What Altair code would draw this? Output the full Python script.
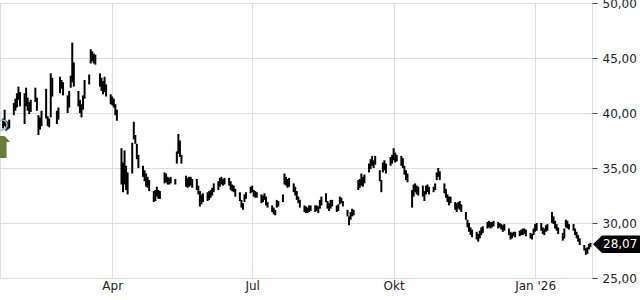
import json
import altair as alt
import pandas as pd

# Daily low / high prices (one row per trading week, Mon..Fri), Jan 20 2025 .. Feb 6 2026
low = [
    38.6, 38.8, 38.4, 38.5, 38.6,
    39.8, 40.2, 40.5, 41.2, 40.6,
    39.0, 40.6, 40.2, 39.9, 40.1,
    41.0, 40.2, 38.0, 38.5, 38.8,
    39.5, 38.8, 38.7, 39.6, 41.5,
    39.0, 39.4, 41.8, 42.2, 41.6,
    40.0, 40.5, 42.3, 42.8, 42.4,
    40.6, 40.0, 39.6, 40.3, 41.3,
    42.6, 44.5, 44.7, 44.5, 44.4,
    42.4, 42.0, 41.7, 41.9, 41.5,
    40.8, 40.7, 40.5, 39.8, 39.3,
    33.5, 32.8, 33.5, 33.0, 32.6,
    34.5, 37.6, 37.2, 35.8, 35.0,
    34.2, 33.8, 33.3, 33.2, 32.9,
    31.9, 32.0, 32.4, 32.2, 32.2,
    33.6, 33.7, 33.5, 33.5, 33.6,
    33.5, 35.4, 36.3, 36.0, 35.4,
    33.3, 33.2, 33.3, 33.4, 33.2,
    33.0, 32.6, 31.5, 31.7, 31.9,
    32.0, 32.1, 32.3, 32.5, 32.8,
    33.0, 33.3, 33.5, 33.4, 33.5,
    33.4, 33.0, 32.9, 32.8, 32.4,
    32.0, 31.4, 31.2, 31.9, 32.2,
    32.7, 32.8, 32.4, 32.3, 32.3,
    31.8, 31.9, 32.1, 31.6, 31.4,
    31.0, 30.8, 30.7, 31.4, 31.5,
    31.9, 33.5, 33.4, 33.2, 33.3,
    32.8, 32.5, 32.1, 31.8, 31.4,
    31.0, 30.9, 30.9, 31.0, 31.1,
    31.0, 31.1, 30.9, 31.3, 31.6,
    31.9, 31.3, 31.1, 31.3, 31.5,
    31.0, 31.1, 31.7, 31.8, 31.5,
    30.6, 29.8, 30.3, 30.6, 30.7,
    33.0, 33.2, 33.4, 33.3, 33.6,
    34.6, 34.9, 35.2, 35.0, 35.3,
    33.8, 32.8, 34.6, 34.8, 34.5,
    35.2, 35.4, 35.7, 35.5, 35.6,
    35.2, 35.0, 34.4, 33.9, 33.7,
    31.4, 32.4, 32.8, 32.6, 32.5,
    32.4, 32.0, 32.6, 32.8, 32.6,
    32.8, 33.0, 33.9, 34.2, 33.9,
    32.7, 32.3, 31.9, 31.6, 31.8,
    31.2, 31.0, 31.3, 31.2, 31.0,
    30.3, 29.6, 29.2, 28.9, 28.7,
    28.5, 28.3, 28.6, 28.9, 29.1,
    29.5, 29.6, 29.5, 29.6, 29.7,
    29.5, 29.6, 29.4, 29.2, 29.3,
    28.9, 28.5, 28.6, 28.8, 28.7,
    28.8, 28.9, 28.9, 29.0, 28.8,
    28.6, 28.5, 28.9, 29.2, 29.3,
    29.3, 29.0, 28.9, 29.2, 29.3,
    30.0, 29.9, 29.5, 29.3, 29.0,
    28.4, 28.6, 29.6, 29.5, 29.4,
    29.3, 28.9, 28.6, 28.3, 28.0,
    27.5, 27.1, 27.2, 27.6, 27.8,
]
high = [
    39.5, 40.3, 39.3, 39.2, 39.4,
    40.9, 41.3, 41.8, 42.4, 41.9,
    41.8, 42.3, 41.4, 41.0, 41.2,
    42.3, 41.4, 39.8, 39.6, 40.2,
    42.2, 39.7, 39.5, 43.6, 43.2,
    40.2, 40.5, 43.3, 43.0, 42.8,
    41.6, 42.0, 43.4, 46.4, 44.6,
    42.0, 41.2, 40.8, 41.6, 43.0,
    43.5, 45.8, 45.6, 45.4, 45.3,
    43.6, 43.2, 42.9, 43.3, 42.6,
    41.7, 41.5, 41.3, 40.8, 40.3,
    36.8, 35.5, 36.6, 35.2, 34.6,
    37.3, 39.2, 38.0, 37.2, 36.2,
    35.2, 34.8, 34.5, 34.2, 33.9,
    32.9, 33.0, 33.3, 33.0, 32.9,
    34.6, 34.5, 34.2, 34.1, 34.2,
    34.0, 36.5, 38.1, 37.5, 36.2,
    34.3, 34.1, 34.2, 34.2, 34.0,
    34.0, 33.4, 32.9, 32.6, 32.7,
    32.8, 32.9, 33.0, 33.2, 33.6,
    33.8, 34.1, 34.2, 34.0, 34.1,
    34.1, 33.8, 33.5, 33.4, 33.1,
    32.8, 32.1, 31.8, 32.6, 32.8,
    33.3, 33.4, 33.0, 32.9, 32.8,
    32.6, 32.5, 32.7, 32.4, 31.9,
    31.6, 31.4, 31.2, 32.1, 32.0,
    32.6, 34.5, 34.2, 34.0, 34.1,
    33.6, 33.3, 32.9, 32.4, 32.1,
    31.6, 31.5, 31.4, 31.6, 31.6,
    31.6, 31.6, 31.5, 32.1, 32.4,
    32.7, 32.0, 31.8, 32.1, 32.1,
    31.6, 31.7, 32.4, 32.3, 32.0,
    31.2, 30.6, 31.0, 31.3, 31.2,
    33.9, 34.0, 34.5, 34.2, 34.4,
    35.4, 35.8, 36.1, 35.7, 36.1,
    34.8, 33.9, 35.5, 35.7, 35.4,
    36.0, 36.2, 36.8, 36.4, 36.2,
    36.1, 35.9, 35.2, 34.8, 34.5,
    33.0, 33.5, 33.6, 33.4, 33.3,
    33.4, 32.9, 33.4, 33.5, 33.3,
    33.3, 33.6, 34.6, 35.0, 34.7,
    33.6, 33.1, 32.6, 32.4, 32.4,
    31.9, 31.8, 31.9, 32.0, 31.7,
    31.0, 30.3, 30.0, 29.6, 29.4,
    29.2, 29.0, 29.3, 29.6, 29.7,
    30.1, 30.2, 30.1, 30.1, 30.2,
    30.1, 30.0, 29.9, 29.8, 29.9,
    29.5, 29.2, 29.1, 29.2, 29.2,
    29.3, 29.4, 29.5, 29.5, 29.4,
    29.1, 29.0, 29.5, 29.9, 30.0,
    30.0, 29.6, 29.5, 29.8, 29.9,
    31.0, 30.6, 30.2, 29.9, 29.6,
    29.1, 29.5, 30.3, 30.2, 29.9,
    29.9, 29.5, 29.2, 28.9, 28.6,
    28.0, 27.7, 27.8, 28.1, 28.2,
]
first_day = "2025-01-20"
last_day = "2026-02-06"
last_price = 28.07
signal_price = 36.9       # green buy arrow
signal_circle_price = 38.9

y_ticks = [25, 30, 35, 40, 45, 50]
x_tick_dates = [(2025, 4, 1), (2025, 7, 1), (2025, 10, 1), (2026, 1, 1)]
x_tick_labels = ["Apr", "Jul", "Okt", "Jan '26"]

dates = pd.bdate_range(first_day, last_day)
assert len(dates) == len(low) == len(high)
df = pd.DataFrame({
    "date": dates.strftime("%Y-%m-%dT00:00:00"),
    "low": low,
    "high": high,
})

month_names = [""] * 12
for (yy, mm, dd), lab in zip(x_tick_dates, x_tick_labels):
    month_names[mm - 1] = lab
x_label_expr = json.dumps(month_names) + "[month(datum.value)]"

x_scale = alt.Scale(domain=[alt.DateTime(year=2025, month=1, date=18),
                            alt.DateTime(year=2026, month=2, date=7)])
y_scale = alt.Scale(domain=[25, 50], nice=False, zero=False)

x_axis = alt.Axis(
    values=[alt.DateTime(year=a, month=b, date=c) for a, b, c in x_tick_dates],
    labelExpr=x_label_expr, title=None, grid=True, gridColor="#dddddd",
    domain=False, tickSize=0, labelPadding=2, labelFontSize=12,
    labelColor="#222222", labelAlign="center",
)
y_axis = alt.Axis(
    orient="right", values=y_ticks, title=None, grid=True, gridColor="#dddddd",
    domain=False, tickSize=5, tickColor="#444444", labelPadding=5,
    labelFontSize=12, labelColor="#222222",
    labelExpr="replace(format(datum.value, '.2f'), '.', ',')",
)

bars = alt.Chart(df).mark_rule(color="black", strokeWidth=2).encode(
    x=alt.X("date:T", scale=x_scale, axis=x_axis),
    y=alt.Y("low:Q", scale=y_scale, axis=y_axis),
    y2="high:Q",
)

sig_df = pd.DataFrame({"date": [first_day + "T00:00:00"], "p": [signal_price],
                       "c": [signal_circle_price]})
arrow_path = "M-0.45,-1.1 L0.45,-1.1 L1,-0.5 L0.65,-0.5 L0.65,1.1 L-0.65,1.1 L-0.65,-0.5 L-1,-0.5 Z"
arrow = alt.Chart(sig_df).mark_point(
    shape=arrow_path, filled=True, fill="#6b7b3a", size=400, opacity=1,
    strokeWidth=0, xOffset=-3,
).encode(x=alt.X("date:T", scale=x_scale), y=alt.Y("p:Q", scale=y_scale))
circle = alt.Chart(sig_df).mark_point(
    shape="circle", filled=False, stroke="#8ccad6", size=100, strokeWidth=1.5,
    opacity=1, xOffset=-1,
).encode(x=alt.X("date:T", scale=x_scale), y=alt.Y("c:Q", scale=y_scale))

lab_df = pd.DataFrame({"p": [last_price],
                       "t": [f"{last_price:.2f}".replace(".", ",")]})
box_path = "M-1,0 L-0.617,-0.37 L1,-0.37 L1,0.37 L-0.617,0.37 Z"
box = alt.Chart(lab_df).mark_point(
    shape=box_path, filled=True, fill="black", size=2209, opacity=1, strokeWidth=0,
).encode(x=alt.value(616.5), y=alt.Y("p:Q", scale=y_scale))
box_text = alt.Chart(lab_df).mark_text(
    color="white", fontSize=12, align="left", baseline="middle",
).encode(x=alt.value(603), y=alt.Y("p:Q", scale=y_scale), text="t:N")

chart = alt.layer(bars, circle, arrow, box, box_text).properties(
    width=592, height=275,
    autosize=alt.AutoSizeParams(type="none"),
    padding={"left": 0, "top": 3, "right": 48, "bottom": 22},
).configure_view(stroke=None).configure(font="DejaVu Sans")

chart.save("out.html", embed_options={"renderer": "svg", "actions": False})
